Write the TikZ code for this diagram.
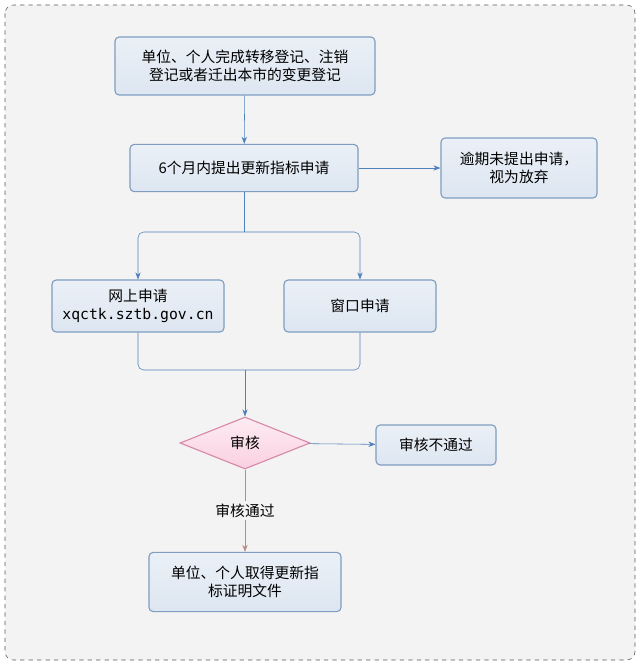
\documentclass[tikz,border=0pt]{standalone}
\usepackage{fontspec}
\setmainfont{Noto Sans CJK SC}
\newfontfamily\urlfont{DejaVu Sans Mono}
\usetikzlibrary{arrows.meta,shapes.geometric}
\definecolor{boxline}{HTML}{7F9DC0}
\definecolor{boxfill}{HTML}{DDE6F1}
\definecolor{arrowblue}{HTML}{4F81BD}
\definecolor{pinkline}{HTML}{D889A8}
\definecolor{pinkfill}{HTML}{FAD0E0}
\definecolor{brownarrow}{HTML}{B88A8A}
\definecolor{pagefill}{HTML}{F3F3F3}
\begin{document}
\begin{tikzpicture}[x=0.025cm,y=-0.025cm,font=\fontsize{10.5}{13}\selectfont]
\tikzstyle{stepbox} = [rectangle, draw=boxline, thick, top color=boxfill!60, bottom color=boxfill, rounded corners=3pt, align=center, inner sep=2pt]
\tikzstyle{checkshape} = [diamond, draw=pinkline, thick, top color=pinkfill!40, bottom color=pinkfill, aspect=2.5, minimum width=3.25cm, minimum height=1.3cm, inner sep=0pt]
\tikzstyle{flow} = [draw=arrowblue, -{Stealth[length=5pt]}]
\tikzstyle{merge} = [draw=arrowblue, rounded corners=4pt]

\useasboundingbox (0,0) rectangle (640,665);
% frame
\draw[gray!70!black, dashed, fill=pagefill, rounded corners=6pt] (5,5) rectangle (635,660);

% steps
\node[stepbox, minimum width=6.5cm, minimum height=1.45cm] (transfer) at (245,66) {单位、个人完成转移登记、注销\\登记或者迁出本市的变更登记};
\node[stepbox, minimum width=5.7cm, minimum height=1.18cm] (apply) at (244,168) {6个月内提出更新指标申请};
\node[stepbox, minimum width=3.9cm, minimum height=1.5cm] (giveup) at (519,168) {逾期未提出申请，\\视为放弃};
\node[stepbox, minimum width=4.3cm, minimum height=1.3cm] (online) at (138,306) {网上申请\\{\urlfont xqctk.sztb.gov.cn}};
\node[stepbox, minimum width=3.8cm, minimum height=1.3cm] (window) at (360,306) {窗口申请};
\node[checkshape] (check) at (245,443) {审核};
\node[stepbox, minimum width=3.0cm, minimum height=1.0cm] (fail) at (436,445) {审核不通过};
\node[stepbox, minimum width=4.8cm, minimum height=1.48cm] (result) at (245,582) {单位、个人取得更新指\\标证明文件};

% connectors
\coordinate (split) at (244,232);
\coordinate (join) at (245,370);
\draw[flow] (transfer) -- (apply);
\draw[flow] (apply) -- (giveup);
\draw[draw=arrowblue] (apply.south) -- (split);
\draw[flow, rounded corners=4pt] (split) -| (online.north);
\draw[flow, rounded corners=4pt] (split) -| (window.north);
\draw[merge] (online.south) |- (join) -| (window.south);
\draw[flow] (join) -- (check.north);
\draw[flow] (check) -- (fail);
\draw[draw=brownarrow, -{Stealth[length=5pt]}] (check.south) -- node[fill=pagefill, inner sep=2pt] (passlabel) {审核通过} (result.north);
\end{tikzpicture}
\end{document}
